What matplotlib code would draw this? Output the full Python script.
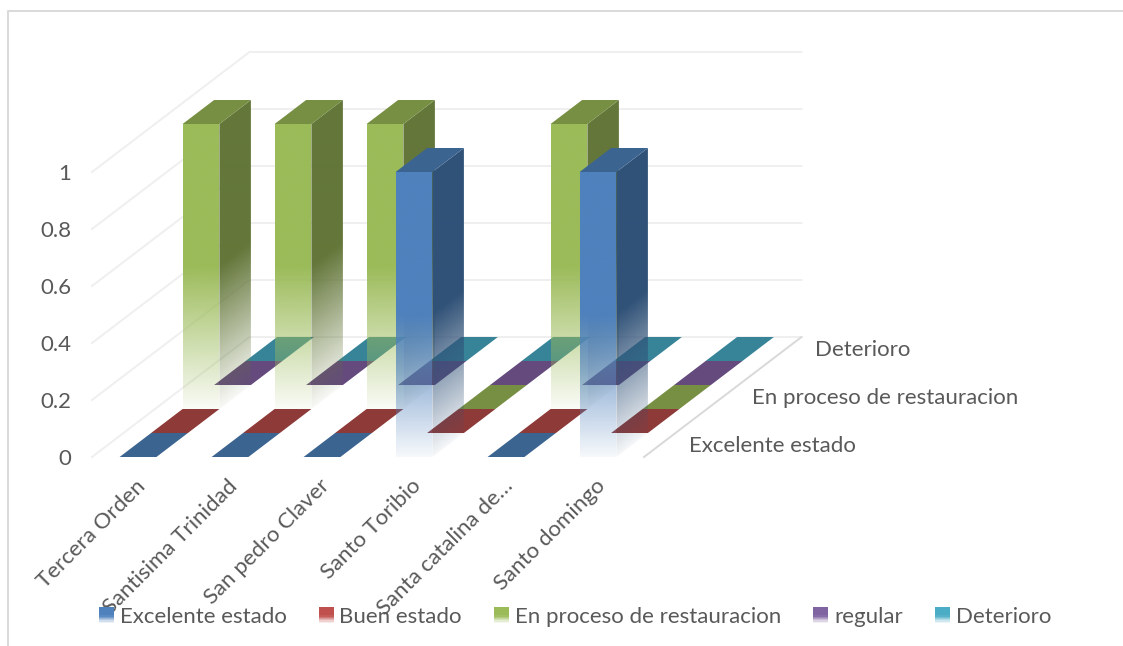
import matplotlib
matplotlib.use('Agg')
import matplotlib.pyplot as plt
import numpy as np
from matplotlib.colors import to_rgb
from matplotlib.legend_handler import HandlerBase
from matplotlib.lines import Line2D
from matplotlib.patches import Polygon, Rectangle
from matplotlib.transforms import Affine2D

plt.rcParams['font.family'] = ['Lato', 'DejaVu Sans']

categories = ['Tercera Orden', 'Santisima Trinidad', 'San pedro Claver',
              'Santo Toribio', 'Santa catalina de…', 'Santo domingo']
series_names = ['Excelente estado', 'Buen estado', 'En proceso de restauracion',
                'regular', 'Deterioro']
excelente = [0, 0, 0, 1, 0, 1]
buen = [0, 0, 0, 0, 0, 0]
restauracion = [1, 1, 1, 0, 1, 0]
regular = [0, 0, 0, 0, 0, 0]
deterioro = [0, 0, 0, 0, 0, 0]
series_values = [excelente, buen, restauracion, regular, deterioro]
value_ticks = [0, 0.2, 0.4, 0.6, 0.8, 1]
value_tick_labels = ['0', '0.2', '0.4', '0.6', '0.8', '1']
depth_labels = {0: 'Excelente estado', 2: 'En proceso de restauracion', 4: 'Deterioro'}

front_colors = ['#4F81BD', '#C0504D', '#9BBB59', '#8064A2', '#4BACC6']
top_colors = ['#3C6491', '#8E3A38', '#778F43', '#644A7D', '#378499']
side_colors = ['#315278', '#75302E', '#64773A', '#523D68', '#2D6E7F']
TEXT = '#595959'
FONT = 16

W, H = 1123, 646
# plot box in pixels, the depth axis is an oblique offset from it
LEFT, RIGHT, BASE, TOP = 92, 644, 457, 172
DX = 31.5 / ((RIGHT - LEFT) / len(categories))   # one series deep, in category units
DY = 24 / (BASE - TOP)                           # one series deep, in value units
BAR = 0.4


def fade(v):
    return np.clip(0.05 + 0.95 * v / 0.5, 0, 1)


def rgba_image(color, alpha):
    img = np.ones(alpha.shape + (4,))
    img[..., :3] = to_rgb(color)
    img[..., 3] = alpha
    return img


def shaded_face(ax, pts, color, value_at):
    # gradient image of the face, cut to its outline
    pts = np.array(pts)
    x0, x1 = pts[:, 0].min(), pts[:, 0].max()
    y0, y1 = pts[:, 1].min(), pts[:, 1].max()
    X, Y = np.meshgrid(np.linspace(x0, x1, 80), np.linspace(y0, y1, 400))
    # same zorder as the flat patches, so drawing order decides what covers what
    im = ax.imshow(rgba_image(color, fade(value_at(X, Y))), origin='lower', zorder=1,
                   extent=(x0, x1, y0, y1), aspect='auto', interpolation='bilinear')
    # images fall back to the axes box when they have no clip box
    im.set_clip_box(ax.figure.bbox)
    im.set_clip_path(Polygon(pts, transform=ax.transData))


def draw_bar(ax, cat, depth, value, s):
    x0 = cat + (1 - BAR) / 2
    x1 = x0 + BAR
    y0 = depth * DY
    ox, oy = depth * DX, depth * DY
    xa, xb = x0 + ox, x1 + ox
    if value == 0:
        ax.add_patch(Polygon([(xa, y0), (xb, y0), (xb + DX, y0 + DY), (xa + DX, y0 + DY)],
                             fc=top_colors[s], ec='none', clip_on=False))
        return
    side = [(xb, y0), (xb + DX, y0 + DY), (xb + DX, y0 + DY + value), (xb, y0 + value)]
    shaded_face(ax, side, side_colors[s],
                lambda X, Y: Y - y0 - (X - xb) / DX * DY)
    ax.add_patch(Polygon([(xa, y0 + value), (xb, y0 + value), (xb + DX, y0 + DY + value),
                          (xa + DX, y0 + DY + value)],
                         fc=top_colors[s], ec='none', clip_on=False))
    front = [(xa, y0), (xb, y0), (xb, y0 + value), (xa, y0 + value)]
    shaded_face(ax, front, front_colors[s], lambda X, Y: Y - y0)


class GradientKey(HandlerBase):
    def __init__(self, color):
        super().__init__()
        self.color = color

    def create_artists(self, legend, orig, xd, yd, w, h, fontsize, trans):
        n = 12
        artists = []
        for i in range(n):
            frac = i / n
            alpha = min(1, 0.1 + frac / 0.5)
            artists.append(Rectangle((-xd, -yd + frac * h), w, h / n, fc=self.color,
                                     ec='none', alpha=alpha, transform=trans,
                                     antialiased=False))
        return artists


fig = plt.figure(figsize=(W / 100, H / 100), dpi=100)
ax = fig.add_axes([LEFT / W, 1 - BASE / H, (RIGHT - LEFT) / W, (BASE - TOP) / H])
ax.patch.set_visible(False)
for sp in ax.spines.values():
    sp.set_visible(False)

n_series = len(series_names)
wall_x = n_series * DX
wall_y = n_series * DY
for v in value_ticks:
    ax.plot([0, wall_x, len(categories) + wall_x], [v, v + wall_y, v + wall_y],
            color='#EFEFEF', lw=1.4, clip_on=False, zorder=0)
ax.plot([len(categories), len(categories) + wall_x], [0, wall_y],
        color='#D9D9D9', lw=1.4, clip_on=False, zorder=0)

# back series first so the front ones cover them
for s in range(n_series - 1, -1, -1):
    for c, val in enumerate(series_values[s]):
        draw_bar(ax, c, s, val, s)

ax.set_xlim(0, len(categories))
ax.set_ylim(0, 1)
ax.set_yticks(value_ticks, value_tick_labels)
ax.set_xticks(np.arange(len(categories)) + 0.5, categories)
ax.tick_params(axis='y', length=0, pad=15, labelsize=FONT, labelcolor=TEXT)
ax.tick_params(axis='x', length=0, pad=13.5, labelsize=FONT, labelcolor=TEXT)
for lab in ax.get_xticklabels():
    lab.set_rotation(45)
    lab.set_ha('right')
    lab.set_rotation_mode('anchor')
    lab.set_transform(lab.get_transform() + Affine2D().translate(-3, 0))

for s, name in depth_labels.items():
    ax.annotate(name, xy=(len(categories) + (s + 0.5) * DX, (s + 0.5) * DY), xytext=(21, -1),
                textcoords='offset points', ha='left', va='center',
                fontsize=FONT, color=TEXT, annotation_clip=False)

handles = [Rectangle((0, 0), 1, 1, label=n) for n in series_names]
fig.legend(handles=handles, loc='upper left', bbox_to_anchor=(99 / W, 1 - 607 / H),
           ncols=n_series, frameon=False, fontsize=FONT, labelcolor=TEXT, borderpad=0,
           borderaxespad=0, handlelength=0.68, handleheight=0.7, handletextpad=0.25,
           columnspacing=1.45,
           handler_map={h: GradientKey(c) for h, c in zip(handles, front_colors)})

# chart frame, open on the right and running off the bottom of the picture
fig.add_artist(Line2D([8 / W, 8 / W, 1122 / W],
                      [0, 1 - 11 / H, 1 - 11 / H], color='#D9D9D9', lw=1.4))

fig.savefig('out.png', dpi=100)
